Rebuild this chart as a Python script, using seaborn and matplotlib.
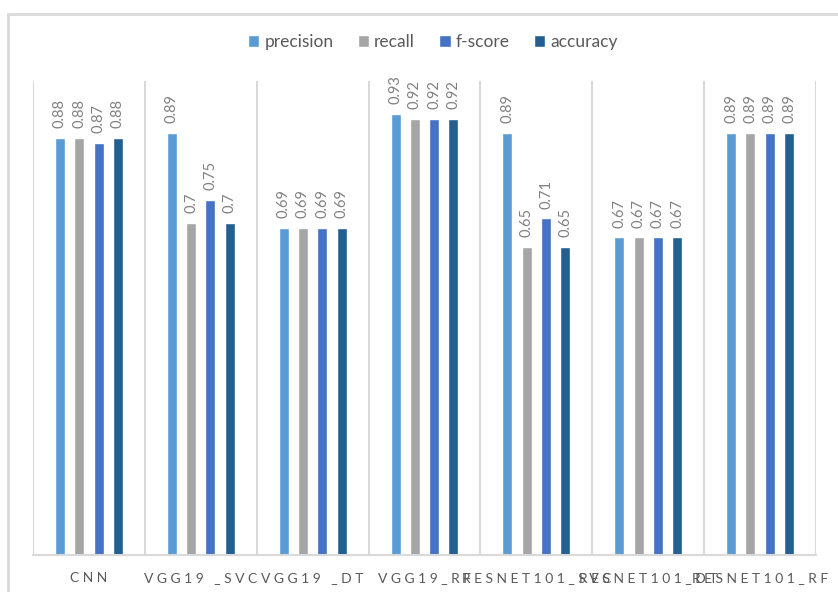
import pandas as pd
import matplotlib.pyplot as plt
import seaborn as sns
from matplotlib.patches import Rectangle

# Values
models = ["CNN", "VGG19 _SVC", "VGG19 _DT", "VGG19_RF",
          "RESNET101_SVC", "RESNET101_DT", "RESNET101_RF"]
metrics = ["precision", "recall", "f-score", "accuracy"]
precision = [0.88, 0.89, 0.69, 0.93, 0.89, 0.67, 0.89]
recall = [0.88, 0.70, 0.69, 0.92, 0.65, 0.67, 0.89]
f_score = [0.87, 0.75, 0.69, 0.92, 0.71, 0.67, 0.89]
accuracy = [0.88, 0.70, 0.69, 0.92, 0.65, 0.67, 0.89]
colors = ["#5B9BD5", "#A5A5A5", "#4472C4", "#255E91"]

df = pd.DataFrame({"model": models, "precision": precision, "recall": recall,
                   "f-score": f_score, "accuracy": accuracy})
long_df = df.melt(id_vars="model", var_name="metric", value_name="value")

sns.set_theme(style="white")
plt.rcParams["font.family"] = ["Lato", "DejaVu Sans"]

fig = plt.figure(figsize=(8.38, 5.92), dpi=100)
ax = fig.add_axes([33 / 838, 1 - 555 / 592, 783 / 838, 474 / 592])

# chart border like the Excel chart area
fig.patches.append(Rectangle((8 / 838, -0.1), 1.2, 1.1 - 14 / 592,
                             transform=fig.transFigure, fill=False,
                             edgecolor="#D9D9D9", lw=2))

sns.barplot(data=long_df, x="model", y="value", hue="metric",
            hue_order=metrics, palette=colors, width=0.69, gap=0.48,
            ax=ax, saturation=1)

for cont in ax.containers:
    ax.bar_label(cont, fmt="{:g}", rotation=90, padding=7,
                 color="#808080", fontsize=10.5)

ax.set_ylim(0, 1)
ax.set_xlim(-0.5, len(models) - 0.5)
ax.set_yticks([])
ax.set_xlabel("")
ax.set_ylabel("")

# letter-spaced category labels
ax.set_xticks(range(len(models)))
ax.set_xticklabels([" ".join(m) for m in models], color="#595959", fontsize=10)
ax.tick_params(axis="x", length=0, pad=12)

# separators between categories
for k in range(len(models) + 1):
    ax.axvline(k - 0.5, color="#D9D9D9", lw=1.5, zorder=0)

for s in ["left", "right", "top"]:
    ax.spines[s].set_visible(False)
ax.spines["bottom"].set_color("#D9D9D9")
ax.spines["bottom"].set_linewidth(1.5)

handles, labels = ax.get_legend_handles_labels()
ax.get_legend().remove()
fig.legend(handles, labels, loc="center", bbox_to_anchor=(433 / 838, 1 - 42 / 592),
           ncol=4, frameon=False, fontsize=12.5, labelcolor="#595959",
           handlelength=0.65, handleheight=0.65, handletextpad=0.3,
           columnspacing=1.4)

plt.savefig("out.png", dpi=100)
